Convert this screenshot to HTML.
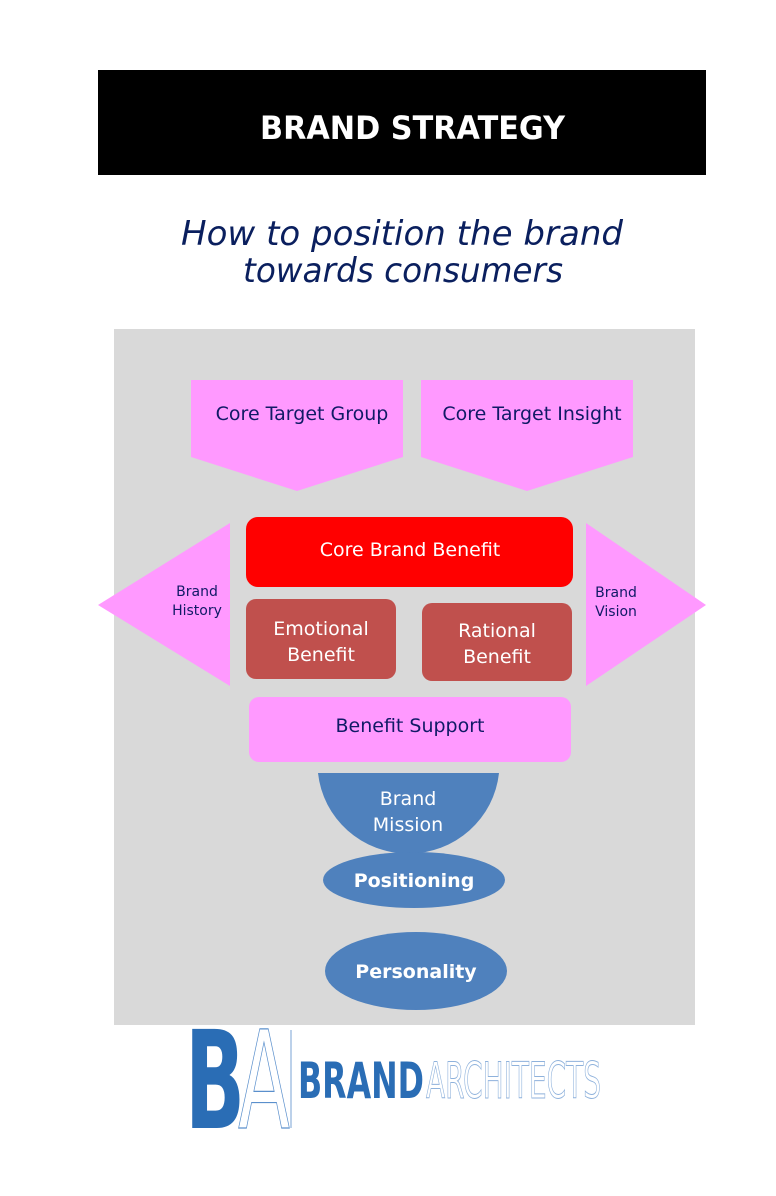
<!DOCTYPE html>
<html><head><meta charset="utf-8"><style>
html,body{margin:0;padding:0;background:#fff;width:776px;height:1196px;overflow:hidden}
text{font-family:"DejaVu Sans","Liberation Sans",sans-serif}
</style></head><body>
<svg width="776" height="1196" viewBox="0 0 776 1196" xmlns="http://www.w3.org/2000/svg">
<rect x="98" y="70" width="608" height="105" fill="#000"/>
<text x="260" y="139" fill="#fff" font-size="32" font-weight="bold" textLength="305" lengthAdjust="spacingAndGlyphs">BRAND STRATEGY</text>
<text x="181" y="245" fill="#0a1f5e" font-size="34" font-style="italic" textLength="442" lengthAdjust="spacingAndGlyphs">How to position the brand</text>
<text x="243" y="282" fill="#0a1f5e" font-size="34" font-style="italic" textLength="320" lengthAdjust="spacingAndGlyphs">towards consumers</text>
<rect x="114" y="329" width="581" height="696" fill="#d9d9d9"/>
<polygon points="191,380 403,380 403,457 297,491 191,457" fill="#ff99ff"/>
<polygon points="421,380 633,380 633,457 527,491 421,457" fill="#ff99ff"/>
<text x="302" y="420" text-anchor="middle" fill="#101a66" font-size="19">Core Target Group</text>
<text x="532" y="420" text-anchor="middle" fill="#101a66" font-size="19">Core Target Insight</text>
<polygon points="98,605 230,523 230,686" fill="#ff99ff"/>
<polygon points="706,605 586,523 586,686" fill="#ff99ff"/>
<text x="197" y="596" text-anchor="middle" fill="#101a66" font-size="14">Brand</text>
<text x="197" y="615" text-anchor="middle" fill="#101a66" font-size="14">History</text>
<text x="616" y="597" text-anchor="middle" fill="#101a66" font-size="14">Brand</text>
<text x="616" y="616" text-anchor="middle" fill="#101a66" font-size="14">Vision</text>
<rect x="246" y="517" width="327" height="70" rx="12" fill="#ff0000"/>
<text x="410" y="556" text-anchor="middle" fill="#fff" font-size="19">Core Brand Benefit</text>
<rect x="246" y="599" width="150" height="80" rx="10" fill="#c0504d"/>
<text x="321" y="635" text-anchor="middle" fill="#fff" font-size="19">Emotional</text>
<text x="321" y="661" text-anchor="middle" fill="#fff" font-size="19">Benefit</text>
<rect x="422" y="603" width="150" height="78" rx="10" fill="#c0504d"/>
<text x="497" y="637" text-anchor="middle" fill="#fff" font-size="19">Rational</text>
<text x="497" y="663" text-anchor="middle" fill="#fff" font-size="19">Benefit</text>
<rect x="249" y="697" width="322" height="65" rx="10" fill="#ff99ff"/>
<text x="410" y="732" text-anchor="middle" fill="#101a66" font-size="19">Benefit Support</text>
<path d="M318 773 L499 773 A91 90 0 0 1 318 773 Z" fill="#4f81bd"/>
<text x="408" y="805" text-anchor="middle" fill="#fff" font-size="19">Brand</text>
<text x="408" y="831" text-anchor="middle" fill="#fff" font-size="19">Mission</text>
<ellipse cx="414" cy="880" rx="91" ry="28" fill="#4f81bd"/>
<text x="414" y="887" text-anchor="middle" fill="#fff" font-size="19" font-weight="bold">Positioning</text>
<ellipse cx="416" cy="971" rx="91" ry="39" fill="#4f81bd"/>
<text x="416" y="978" text-anchor="middle" fill="#fff" font-size="19" font-weight="bold">Personality</text>
<text x="185" y="1128" fill="#2a6db5" font-size="136" font-weight="bold" font-family="Liberation Sans, sans-serif" textLength="60" lengthAdjust="spacingAndGlyphs">B</text>
<text x="238" y="1128" fill="none" stroke="#5a8fcc" stroke-width="1.2" font-size="136" font-family="Liberation Sans, sans-serif" textLength="52" lengthAdjust="spacingAndGlyphs">A</text>
<line x1="291" y1="1030" x2="291" y2="1128" stroke="#7aa3d6" stroke-width="1"/>
<text x="298" y="1098" fill="#2a6db5" font-size="50" font-weight="bold" font-family="Liberation Sans, sans-serif" textLength="126" lengthAdjust="spacingAndGlyphs">BRAND</text>
<text x="426" y="1098" fill="none" stroke="#8fb2dc" stroke-width="1" font-size="50" font-family="Liberation Sans, sans-serif" textLength="175" lengthAdjust="spacingAndGlyphs">ARCHITECTS</text>
</svg>
</body></html>
